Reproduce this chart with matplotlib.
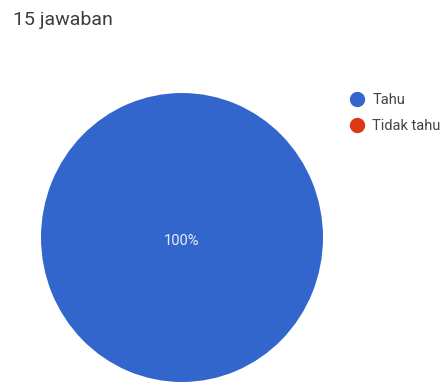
import matplotlib
matplotlib.use('Agg')
import matplotlib.pyplot as plt
from matplotlib.lines import Line2D

plt.rcParams['font.family'] = ['Roboto', 'DejaVu Sans']

# survey answers
labels = ['Tahu', 'Tidak tahu']
counts = [15, 0]
colors = ['#3366CC', '#DC3912']
title = '15 jawaban'

W, H = 448, 385
fig = plt.figure(figsize=(W / 100, H / 100), dpi=100)
fig.text(13 / W, 1 - 20 / H, title, fontsize=14, color='#3c3c3c', va='center', ha='left')

# pie area, slightly taller than wide
ax = fig.add_axes([41 / W, 1 - 382 / H, 282 / W, 289 / H])
wedges, _ = ax.pie(counts, colors=colors, startangle=90, counterclock=False,
                   wedgeprops=dict(linewidth=0))
ax.set_aspect('auto')
ax.set_xlim(-1, 1)
ax.set_ylim(-1, 1)
ax.axis('off')

total = sum(counts)
for w, c in zip(wedges, counts):
    if c == 0:
        continue
    pct = c / total * 100
    ax.text(0, -0.025, f'{pct:.0f}%', ha='center', va='center', fontsize=10.5, color='#e8eef8')

handles = [Line2D([0], [0], marker='o', linestyle='', markersize=10,
                  markerfacecolor=col, markeredgecolor=col) for col in colors]
fig.legend(handles, labels, loc='upper left', bbox_to_anchor=(350 / W, 1 - 93 / H),
           frameon=False, fontsize=10.5, handletextpad=0.53, labelspacing=0.85,
           borderaxespad=0, borderpad=0, handlelength=1.0, labelcolor='#444444')

fig.savefig('out.png', dpi=100)
